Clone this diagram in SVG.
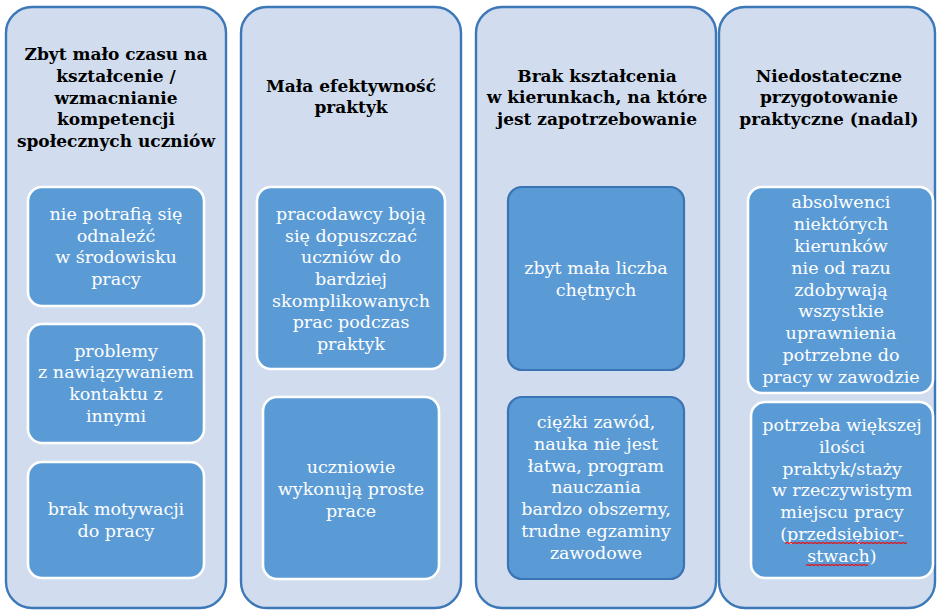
<svg xmlns="http://www.w3.org/2000/svg" width="937" height="610" viewBox="0 0 937 610">
<style>
.col{fill:#d1ddee;stroke:#3c77b8;stroke-width:2.4}
.box{fill:#5b9bd5;stroke:#ffffff;stroke-width:2.6}
.boxd{fill:#5b9bd5;stroke:#3a74b3;stroke-width:2.2}
.t{font-family:"DejaVu Serif","Liberation Serif",serif;font-weight:bold;font-size:17px;fill:#000;text-anchor:middle}
.w{font-family:"DejaVu Serif","Liberation Serif",serif;font-size:17.5px;fill:#ffffff;text-anchor:middle}
.sq{fill:none;stroke:#e0151b;stroke-width:1.2}
</style>
<rect width="937" height="610" fill="#ffffff"/>
<g id="col1">
<rect class="col" x="6" y="7" width="220" height="601" rx="26"/>
<text class="t"><tspan x="116" y="60">Zbyt mało czasu na</tspan><tspan x="116" y="82">kształcenie /</tspan><tspan x="116" y="104">wzmacnianie</tspan><tspan x="116" y="125">kompetencji</tspan><tspan x="116" y="147">społecznych uczniów</tspan></text>
</g>
<g id="col1-box1">
<rect class="box" x="28" y="187" width="176" height="119" rx="14"/>
<text class="w"><tspan x="116" y="220">nie potrafią się</tspan><tspan x="116" y="242">odnaleźć</tspan><tspan x="116" y="263">w środowisku</tspan><tspan x="116" y="285">pracy</tspan></text>
</g>
<g id="col1-box2">
<rect class="box" x="28" y="324" width="176" height="119" rx="14"/>
<text class="w"><tspan x="116" y="357">problemy</tspan><tspan x="116" y="378">z nawiązywaniem</tspan><tspan x="116" y="400">kontaktu z</tspan><tspan x="116" y="422">innymi</tspan></text>
</g>
<g id="col1-box3">
<rect class="box" x="28" y="462" width="176" height="116" rx="14"/>
<text class="w"><tspan x="116" y="515">brak motywacji</tspan><tspan x="116" y="537">do pracy</tspan></text>
</g>
<g id="col2">
<rect class="col" x="241" y="7" width="220" height="601" rx="26"/>
<text class="t"><tspan x="351" y="92">Mała efektywność</tspan><tspan x="351" y="113">praktyk</tspan></text>
</g>
<g id="col2-box1">
<rect class="box" x="257" y="187" width="188" height="182" rx="14"/>
<text class="w"><tspan x="351" y="220">pracodawcy boją</tspan><tspan x="351" y="242">się dopuszczać</tspan><tspan x="351" y="263">uczniów do</tspan><tspan x="351" y="285">bardziej</tspan><tspan x="351" y="307">skomplikowanych</tspan><tspan x="351" y="328">prac podczas</tspan><tspan x="351" y="350">praktyk</tspan></text>
</g>
<g id="col2-box2">
<rect class="box" x="263" y="397" width="176" height="182" rx="14"/>
<text class="w"><tspan x="351" y="473">uczniowie</tspan><tspan x="351" y="495">wykonują proste</tspan><tspan x="351" y="517">prace</tspan></text>
</g>
<g id="col3">
<rect class="col" x="476" y="7" width="240" height="601" rx="26"/>
<text class="t"><tspan x="597" y="82">Brak kształcenia</tspan><tspan x="597" y="103">w kierunkach, na które</tspan><tspan x="597" y="125">jest zapotrzebowanie</tspan></text>
</g>
<g id="col3-box1">
<rect class="boxd" x="508" y="187" width="176" height="183" rx="14"/>
<text class="w"><tspan x="596" y="274">zbyt mała liczba</tspan><tspan x="596" y="296">chętnych</tspan></text>
</g>
<g id="col3-box2">
<rect class="boxd" x="508" y="397" width="176" height="182" rx="14"/>
<text class="w"><tspan x="596" y="428">ciężki zawód,</tspan><tspan x="596" y="450">nauka nie jest</tspan><tspan x="596" y="472">łatwa, program</tspan><tspan x="596" y="493">nauczania</tspan><tspan x="596" y="515">bardzo obszerny,</tspan><tspan x="596" y="537">trudne egzaminy</tspan><tspan x="596" y="559">zawodowe</tspan></text>
</g>
<g id="col4">
<rect class="col" x="719" y="7" width="216" height="601" rx="26"/>
<text class="t"><tspan x="829" y="82">Niedostateczne</tspan><tspan x="829" y="103">przygotowanie</tspan><tspan x="829" y="125">praktyczne (nadal)</tspan></text>
</g>
<g id="col4-box1">
<rect class="box" x="748" y="187" width="185" height="206" rx="14"/>
<text class="w"><tspan x="841" y="208">absolwenci</tspan><tspan x="841" y="230">niektórych</tspan><tspan x="841" y="252">kierunków</tspan><tspan x="841" y="274">nie od razu</tspan><tspan x="841" y="296">zdobywają</tspan><tspan x="841" y="317">wszystkie</tspan><tspan x="841" y="339">uprawnienia</tspan><tspan x="841" y="361">potrzebne do</tspan><tspan x="841" y="383">pracy w zawodzie</tspan></text>
</g>
<g id="col4-box2">
<rect class="box" x="751" y="402" width="182" height="176" rx="14"/>
<text class="w"><tspan x="842" y="431">potrzeba większej</tspan><tspan x="842" y="453">ilości</tspan><tspan x="842" y="475">praktyk/staży</tspan><tspan x="842" y="496">w rzeczywistym</tspan><tspan x="842" y="518">miejscu pracy</tspan><tspan x="842" y="540">(przedsiębior-</tspan><tspan x="842" y="562">stwach)</tspan></text>
<path class="sq" d="M785 543.5 l2 -1 l2 1 l2 -1 l2 1 l2 -1 l2 1 l2 -1 l2 1 l2 -1 l2 1 l2 -1 l2 1 l2 -1 l2 1 l2 -1 l2 1 l2 -1 l2 1 l2 -1 l2 1 l2 -1 l2 1 l2 -1 l2 1 l2 -1 l2 1 l2 -1 l2 1 l2 -1 l2 1 l2 -1 l2 1 l2 -1 l2 1 l2 -1 l2 1 l2 -1 l2 1 l2 -1 l2 1 l2 -1 l2 1 l2 -1 l2 1 l2 -1 l2 1 l2 -1 l2 1 l2 -1 l2 1 l2 -1 l2 1 l2 -1 l2 1 l2 -1 l2 1 l2 -1 l2 1 l2 -1 l2 1 l2 -1"/>
<path class="sq" d="M806 565.5 l2 -1 l2 1 l2 -1 l2 1 l2 -1 l2 1 l2 -1 l2 1 l2 -1 l2 1 l2 -1 l2 1 l2 -1 l2 1 l2 -1 l2 1 l2 -1 l2 1 l2 -1 l2 1 l2 -1 l2 1 l2 -1 l2 1 l2 -1 l2 1 l2 -1 l2 1 l2 -1 l2 1 l2 -1"/>
</g>
<g id="connectors"></g>
</svg>
